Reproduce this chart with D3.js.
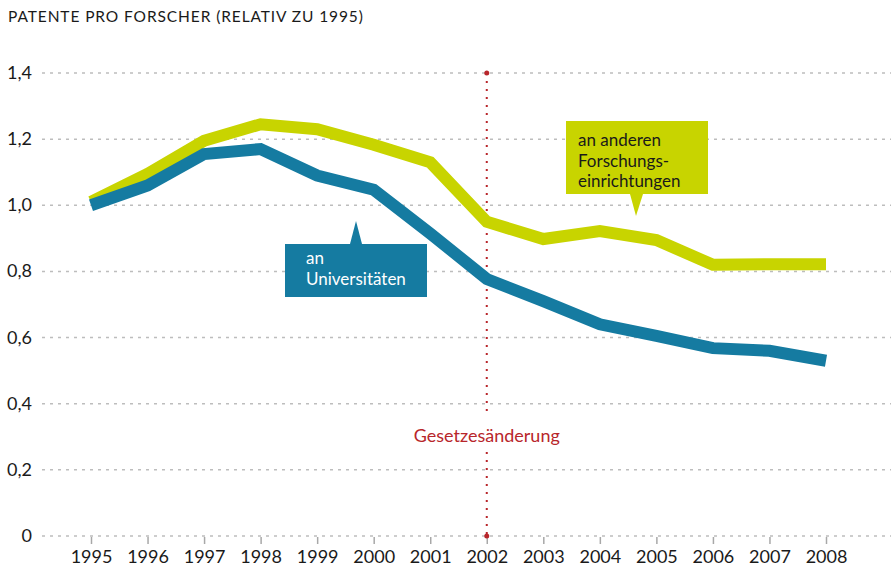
<!DOCTYPE html>
<html lang="de">
<script src="https://d3js.org/d3.v7.min.js"></script>
<style>
    body {margin: 0; background: #fff;}
    text {font-family: Lato, "Noto Sans", sans-serif; fill: #1a1a1a;}
    .grid line {stroke: #bdbdbd; stroke-width: 1.5; stroke-dasharray: 3,5;}
    .axis path {display: none;}
    .axis line {stroke: #a8a8a8; stroke-width: 1.5;}
    .axis text {font-size: 18px;}
</style>
<body>
    <svg width="891" height="569"></svg>
</body>
<script>
    var years = [1995, 1996, 1997, 1998, 1999, 2000, 2001, 2002, 2003, 2004, 2005, 2006, 2007, 2008];
    var universitaeten = [1.0, 1.06, 1.155, 1.17, 1.09, 1.047, 0.915, 0.777, 0.71, 0.64, 0.605, 0.568, 0.56, 0.53];
    var andere = [1.01, 1.095, 1.195, 1.245, 1.23, 1.183, 1.13, 0.95, 0.898, 0.922, 0.895, 0.82, 0.822, 0.822];
    var yTicks = [0, 0.2, 0.4, 0.6, 0.8, 1.0, 1.2, 1.4];

    var svg = d3.select("svg");
    var x = d3.scaleLinear().domain([1995, 2008]).range([91, 826]);
    var y = d3.scaleLinear().domain([0, 1.4]).range([536, 73]);

    svg.append("text").attr("x", 8).attr("y", 22)
        .style("font-size", "15.5px").style("letter-spacing", "0.9px")
        .text("PATENTE PRO FORSCHER (RELATIV ZU 1995)");

    // gridlines
    svg.append("g").attr("class", "grid").selectAll("line").data(yTicks).enter().append("line")
        .attr("x1", 42).attr("x2", 891)
        .attr("y1", function(d){return y(d);}).attr("y2", function(d){return y(d);});

    svg.append("g").selectAll("text").data(yTicks).enter().append("text")
        .attr("x", 32).attr("y", function(d){return y(d) + 6;})
        .attr("text-anchor", "end").style("font-size", "18px")
        .text(function(d){return d === 0 ? "0" : d3.format(".1f")(d).replace(".", ",");});

    svg.append("g").attr("class", "axis").attr("transform", "translate(0,537)")
        .call(d3.axisBottom(x).tickValues(years).tickFormat(d3.format("d")).tickSize(7).tickPadding(6));

    // law change marker
    var red = "#b8262b";
    var xl = x(2002);
    svg.append("line").attr("x1", xl).attr("x2", xl).attr("y1", y(1.4)).attr("y2", 414)
        .attr("stroke", red).attr("stroke-width", 2).attr("stroke-dasharray", "2,6");
    svg.append("line").attr("x1", xl).attr("x2", xl).attr("y1", 452).attr("y2", y(0))
        .attr("stroke", red).attr("stroke-width", 2).attr("stroke-dasharray", "2,6");
    svg.selectAll(".dot").data([1.4, 0]).enter().append("circle").attr("class", "dot")
        .attr("cx", xl).attr("cy", function(d){return y(d);}).attr("r", 2.5).attr("fill", red);
    svg.append("text").attr("x", xl).attr("y", 442).attr("text-anchor", "middle")
        .style("font-size", "18px").style("fill", red).text("Gesetzesänderung");

    var line = d3.line().x(function(d, i){return x(years[i]);}).y(function(d){return y(d);});

    var teal = "#157ba1", lime = "#c8d400";
    svg.append("path").datum(andere).attr("d", line)
        .attr("fill", "none").attr("stroke", lime).attr("stroke-width", 12);
    svg.append("path").datum(universitaeten).attr("d", line)
        .attr("fill", "none").attr("stroke", teal).attr("stroke-width", 12);

    // callout boxes
    svg.append("rect").attr("x", 285).attr("y", 244).attr("width", 142).attr("height", 53).attr("fill", teal);
    svg.append("path").attr("d", "M350,244 L356,221 L362,244 Z").attr("fill", teal);
    svg.selectAll(".uni").data(["an", "Universitäten"]).enter().append("text").attr("class", "uni")
        .attr("x", 306).attr("y", function(d, i){return 264 + i * 20.5;})
        .style("font-size", "17px").style("fill", "#fff").text(function(d){return d;});

    svg.append("rect").attr("x", 566).attr("y", 121).attr("width", 142).attr("height", 73).attr("fill", lime);
    svg.append("path").attr("d", "M630,194 L636,216 L643,194 Z").attr("fill", lime);
    svg.selectAll(".oth").data(["an anderen", "Forschungs-", "einrichtungen"]).enter().append("text").attr("class", "oth")
        .attr("x", 578).attr("y", function(d, i){return 146 + i * 20.5;})
        .style("font-size", "17px").style("fill", "#1a1a1a").text(function(d){return d;});
</script>
</html>
